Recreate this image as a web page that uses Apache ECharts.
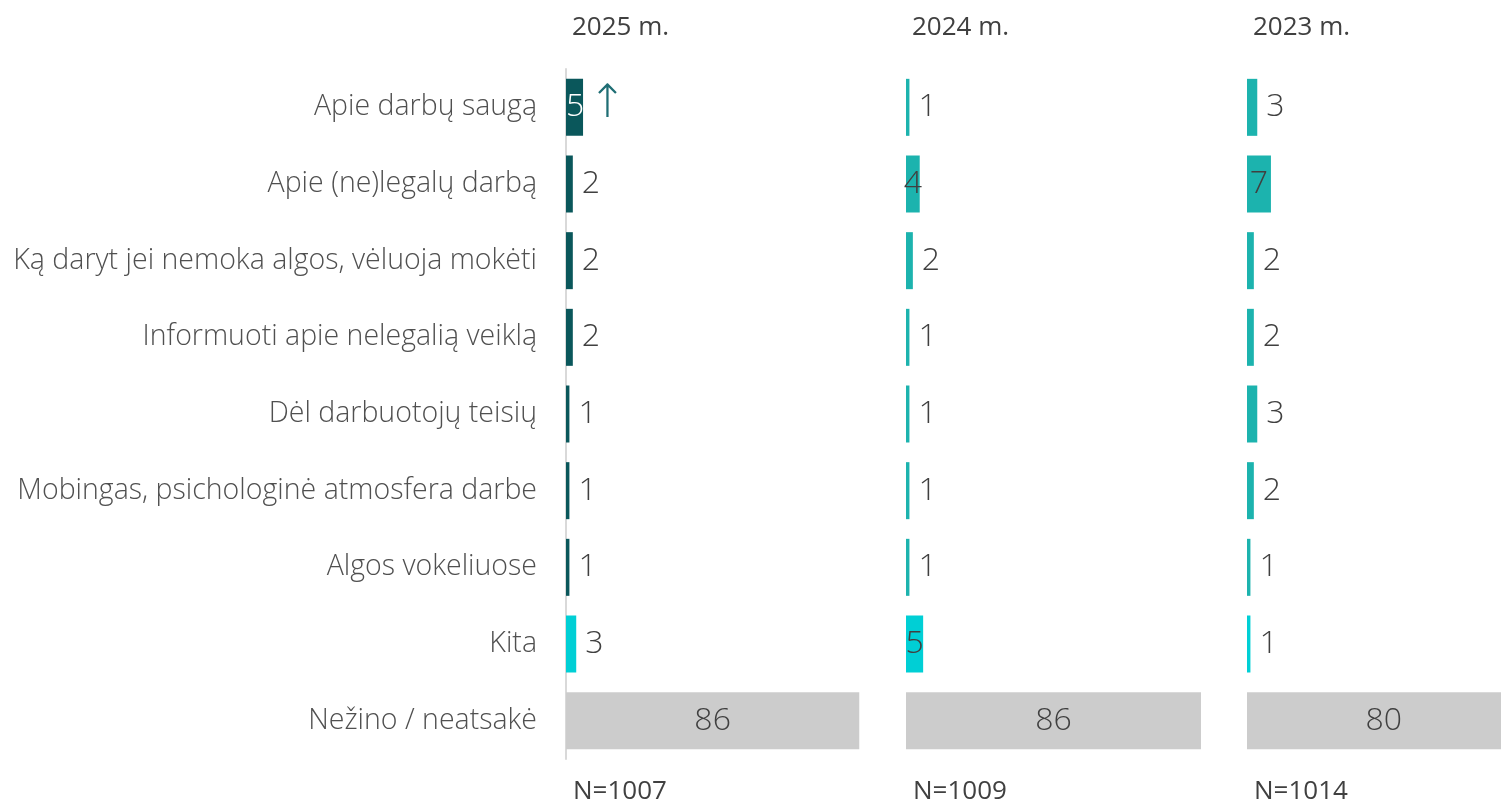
<!DOCTYPE html>
<html>
<head>
<meta charset="utf-8">
<script src="https://cdn.jsdelivr.net/npm/echarts@6/dist/echarts.min.js"></script>
<style>
  html, body { margin: 0; padding: 0; background: #fff; }
  #chart { width: 1501px; height: 805px; }
</style>
</head>
<body>
<div id="chart"></div>
<script>
// categories (top to bottom)
const categories = [
  'Apie darbų saugą',
  'Apie (ne)legalų darbą',
  'Ką daryt jei nemoka algos, vėluoja mokėti',
  'Informuoti apie nelegalią veiklą',
  'Dėl darbuotojų teisių',
  'Mobingas, psichologinė atmosfera darbe',
  'Algos vokeliuose',
  'Kita',
  'Nežino / neatsakė'
]
const years = ['2025 m.', '2024 m.', '2023 m.']
const sampleSizes = ['N=1007', 'N=1009', 'N=1014']
const v2025 = [5, 2, 2, 2, 1, 1, 1, 3, 86]
const v2024 = [1, 4, 2, 1, 1, 1, 1, 5, 86]
const v2023 = [3, 7, 2, 2, 3, 2, 1, 1, 80]
// significant change markers (2025 only)
const up2025 = [true, false, false, false, false, false, false, false, false]

const FONT = '"Open Sans", "Noto Sans", sans-serif'
const TEXT = '#404040'
const mainColors = ['#0a575b', '#1cb3ae', '#1cb3ae']
const kitaColor = '#00cfd5'
const otherColor = '#cccccc'

const chart = echarts.init(document.getElementById('chart'))

const grids = [
  { left: 566, width: 341 },
  { left: 906, width: 343 },
  { left: 1247, width: 342 }
]

function makeData (values, yearIdx, ups) {
  return values.map((v, i) => {
    let color = mainColors[yearIdx]
    if (categories[i] === 'Kita') color = kitaColor
    if (i === values.length - 1) color = otherColor
    const item = { value: v, itemStyle: { color: color } }
    if (v >= 4) {
      // wide enough: label sits on the bar
      item.label = { position: 'inside', color: (yearIdx === 0 && i < values.length - 1) ? '#ffffff' : TEXT }
    }
    if (ups && ups[i]) {
      item.label = {
        position: 'insideLeft',
        distance: 0,
        formatter: '{a|{c}}{b|↑}',
        rich: {
          a: { color: '#ffffff', fontSize: 32, fontFamily: FONT, fontWeight: 300 },
          b: { color: '#1f6e74', fontSize: 46, fontFamily: '"DejaVu Sans"', fontWeight: 200, padding: [0, 0, 4, 4] }
        }
      }
    }
    return item
  })
}

const series = [v2025, v2024, v2023].map((vals, k) => ({
  type: 'bar',
  xAxisIndex: k,
  yAxisIndex: k,
  barWidth: 57,
  data: makeData(vals, k, k === 0 ? up2025 : null),
  label: {
    show: true,
    position: 'right',
    distance: 9,
    color: TEXT,
    fontSize: 32,
    fontFamily: FONT,
    fontWeight: 300
  },
  emphasis: { disabled: true }
}))

const titles = []
years.forEach((y, k) => {
  titles.push({
    text: y,
    left: grids[k].left + 6,
    top: 15,
    padding: 0,
    textStyle: { fontSize: 26, fontWeight: 'normal', color: TEXT, fontFamily: FONT }
  })
  titles.push({
    text: sampleSizes[k],
    left: grids[k].left + 7,
    top: 779,
    padding: 0,
    textStyle: { fontSize: 26, fontWeight: 'normal', color: TEXT, fontFamily: FONT }
  })
})

const option = {
  animation: false,
  title: titles,
  grid: grids.map(g => ({ left: g.left, width: g.width, top: 69, height: 690, outerBoundsMode: 'none', containLabel: false })),
  xAxis: grids.map((g, k) => ({
    type: 'value',
    gridIndex: k,
    min: 0,
    max: 100,
    show: false
  })),
  yAxis: grids.map((g, k) => ({
    type: 'category',
    gridIndex: k,
    inverse: true,
    data: categories,
    axisLine: { show: k === 0, lineStyle: { color: '#d9d9d9', width: 2 } },
    axisTick: { show: false },
    axisLabel: {
      show: k === 0,
      margin: 29,
      color: '#505050',
      fontSize: 28.5,
      fontFamily: FONT,
      fontWeight: 300
    }
  })),
  series: series
}

chart.setOption(option)
</script>
</body>
</html>
